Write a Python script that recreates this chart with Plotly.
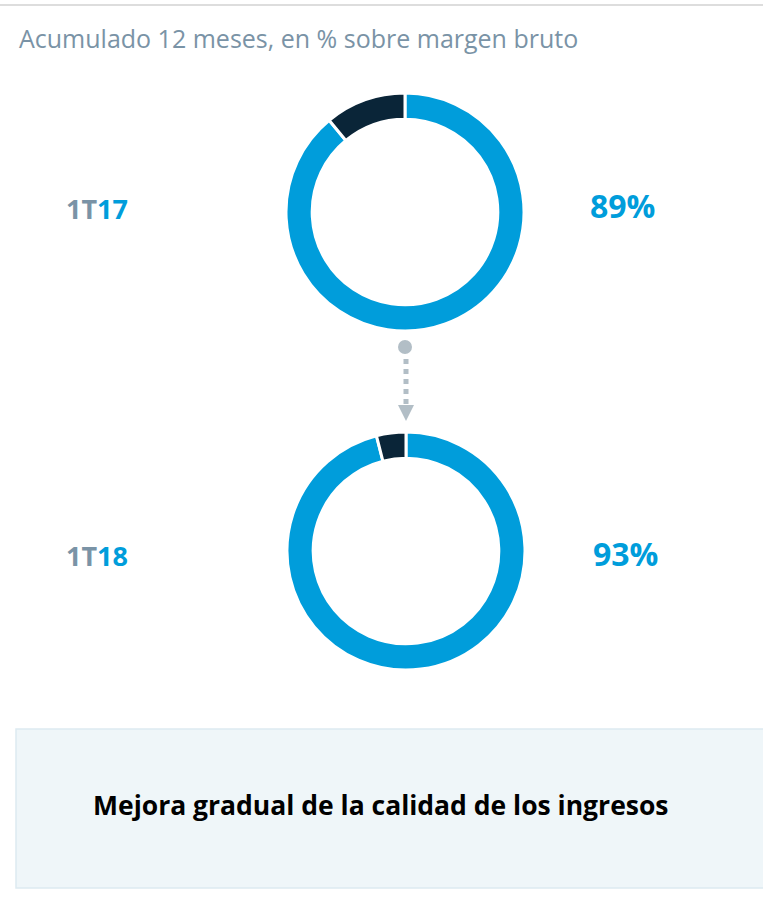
import plotly.graph_objects as go

W, H = 763, 902

periods = ["1T17", "1T18"]
period_prefix = ["1T", "1T"]
period_suffix = ["17", "18"]
blue_share = [89, 96]
other_share = [11, 4]
share_labels = ["89%", "93%"]
slice_names = ["Recurrente", "Resto"]

BLUE = "#009ddb"
DARK = "#0a2538"
GREY_TXT = "#7a93a6"

fig = go.Figure()

def xd(px):
    return px / W

def yd(py):
    return 1 - py / H

centers = [(405, 212), (406, 551)]
R = 119
for i, (cx, cy) in enumerate(centers):
    fig.add_trace(go.Pie(
        values=[blue_share[i], other_share[i]],
        labels=slice_names,
        hole=0.78,
        sort=False,
        direction="clockwise",
        rotation=0,
        textinfo="none",
        hoverinfo="label+percent",
        marker=dict(colors=[BLUE, DARK], line=dict(color="white", width=3)),
        domain=dict(x=[xd(cx - R), xd(cx + R)], y=[yd(cy + R), yd(cy - R)]),
        showlegend=False,
    ))

shapes = [
    dict(type="line", xref="paper", yref="paper", x0=0, x1=1, y0=yd(5), y1=yd(5),
         line=dict(color="#dddddd", width=2)),
    dict(type="circle", xref="paper", yref="paper",
         x0=xd(398), x1=xd(412), y0=yd(354), y1=yd(340),
         fillcolor="#b2bec6", line=dict(width=0)),
    dict(type="line", xref="paper", yref="paper", x0=xd(406), x1=xd(406),
         y0=yd(359), y1=yd(406), line=dict(color="#b2bec6", width=5, dash="dot")),
    dict(type="path", xref="paper", yref="paper",
         path=f"M {xd(398)} {yd(405)} L {xd(414)} {yd(405)} L {xd(406)} {yd(421)} Z",
         fillcolor="#b2bec6", line=dict(width=0)),
    dict(type="rect", xref="paper", yref="paper", x0=xd(16), x1=xd(775),
         y0=yd(888), y1=yd(729), fillcolor="#eff6f9",
         line=dict(color="#ddeaf1", width=1.5), layer="below"),
]

annotations = [
    dict(text="Acumulado 12 meses, en % sobre margen bruto", x=xd(17), y=yd(38),
         xanchor="left", yanchor="middle", showarrow=False,
         font=dict(family="Open Sans", size=25, color=GREY_TXT)),
    dict(text="<b>Mejora gradual de la calidad de los ingresos</b>", x=xd(381), y=yd(805),
         xanchor="center", yanchor="middle", showarrow=False,
         font=dict(family="Open Sans", size=26.5, color="#000000")),
]
label_y = [209, 555]
pct_y = [205, 553]
for i in range(2):
    annotations.append(dict(
        text=f"<b><span style='color:{GREY_TXT}'>{period_prefix[i]}</span>"
             f"<span style='color:{BLUE}'>{period_suffix[i]}</span></b>",
        x=xd(64), y=yd(label_y[i]), xanchor="left", yanchor="middle", showarrow=False,
        font=dict(family="Open Sans", size=27)))
    annotations.append(dict(
        text=f"<b>{share_labels[i]}</b>", x=xd(622 + 3 * i), y=yd(pct_y[i]),
        xanchor="center", yanchor="middle", showarrow=False,
        font=dict(family="Open Sans", size=32, color=BLUE)))

fig.update_layout(
    width=W, height=H,
    margin=dict(l=0, r=0, t=0, b=0),
    paper_bgcolor="white", plot_bgcolor="white",
    shapes=shapes, annotations=annotations,
)

fig.write_html("out.html", config={"displayModeBar": False},
               post_script="document.body.style.margin='0';")
